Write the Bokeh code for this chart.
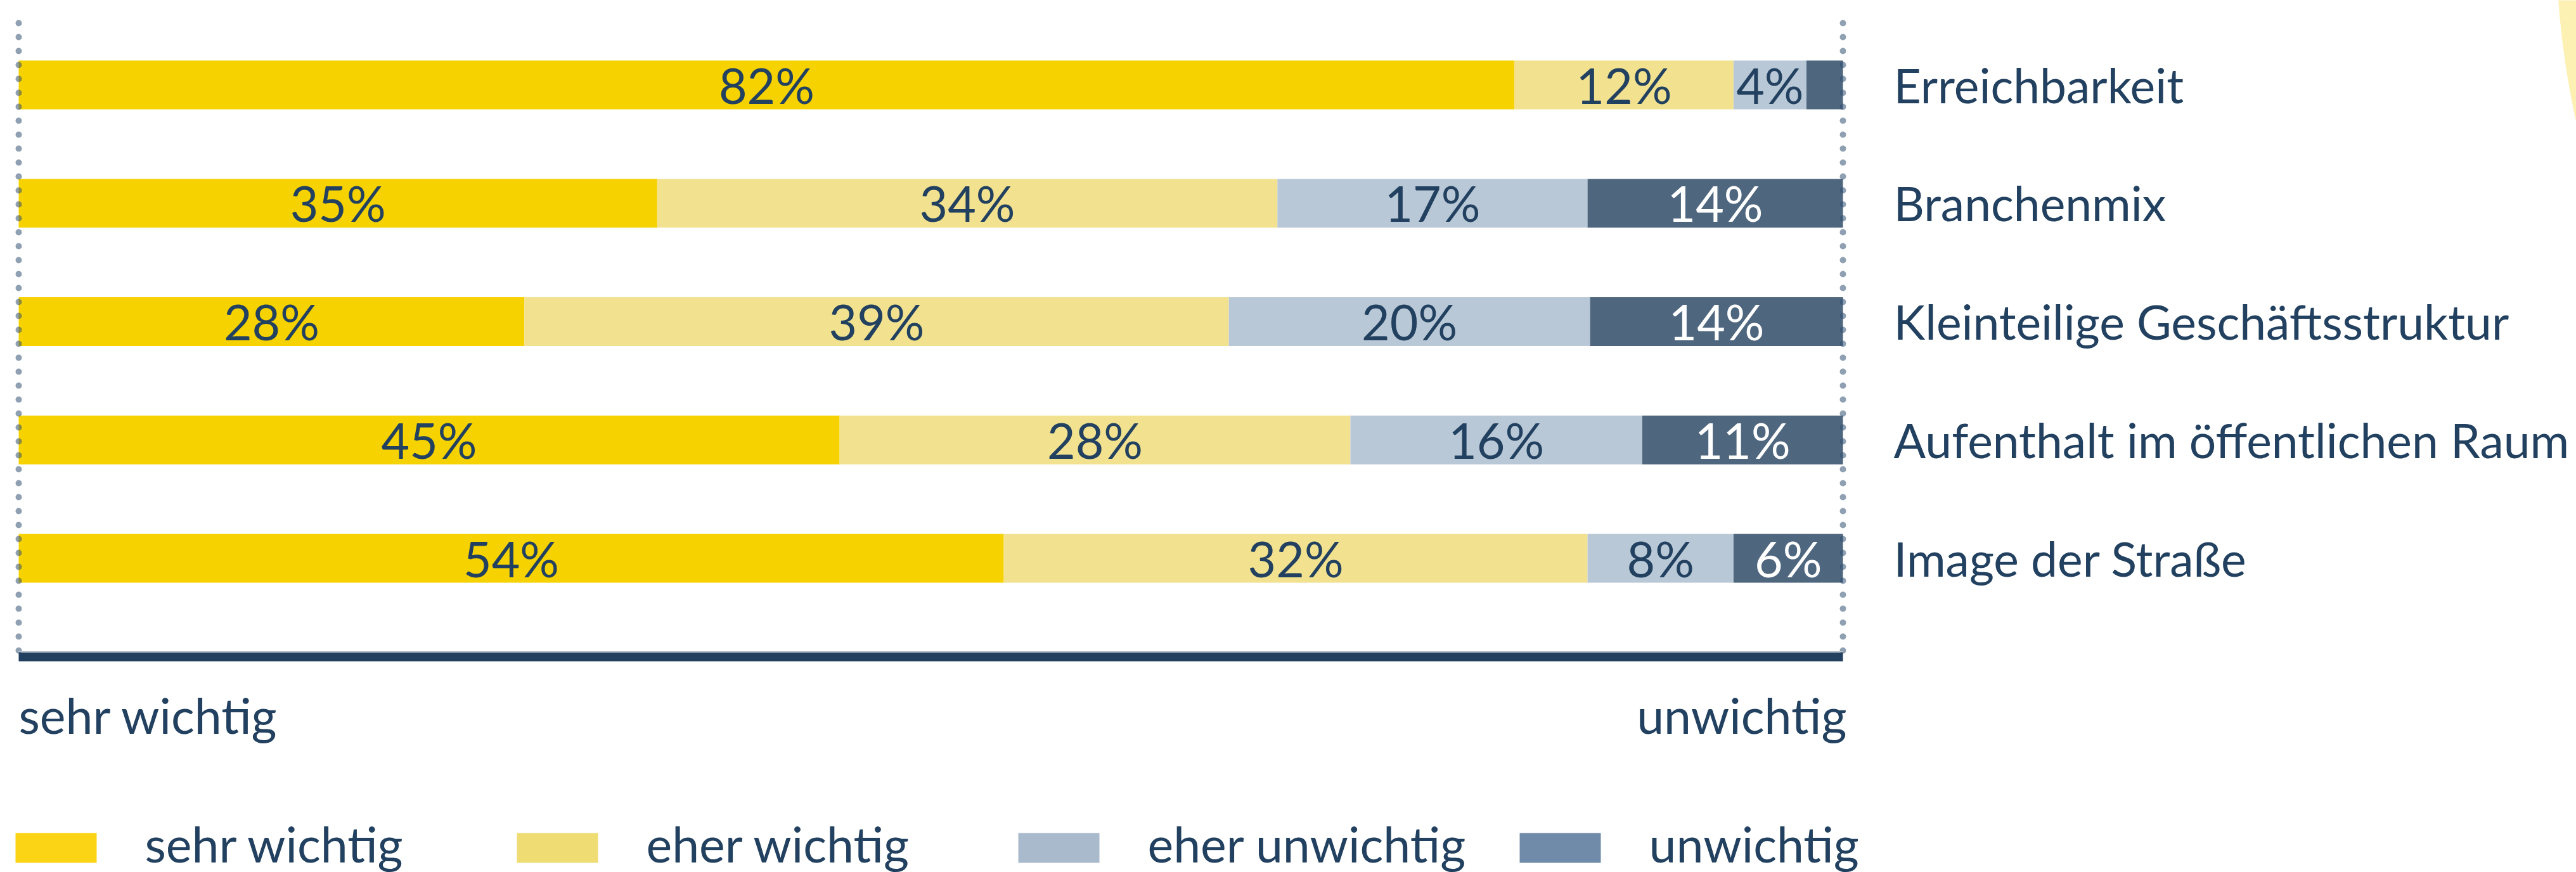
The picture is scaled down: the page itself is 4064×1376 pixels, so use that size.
import numpy as np
from bokeh.plotting import figure
from bokeh.models import ColumnDataSource, Range1d
from bokeh.core.properties import value
from bokeh.embed import file_html
from bokeh.resources import INLINE

# ---------------- data ----------------
categories = ["Erreichbarkeit", "Branchenmix", "Kleinteilige Geschäftsstruktur",
              "Aufenthalt im öffentlichen Raum", "Image der Straße"]
series_names = ["sehr wichtig", "eher wichtig", "eher unwichtig", "unwichtig"]
sehr_wichtig = [82, 35, 28, 45, 54]
eher_wichtig = [12, 34, 39, 28, 32]
eher_unwichtig = [4, 17, 20, 16, 8]
unwichtig = [2, 14, 14, 11, 6]

# ---------------- styles ----------------
bar_colors = ["#F5D200", "#F2E290", "#B9C8D6", "#4F667F"]
legend_colors = ["#FCD416", "#EFDC73", "#A9BACD", "#6F8BA9"]
label_colors = ["#22405F", "#22405F", "#22405F", "#FFFFFF"]
NAVY = "#22405F"
FONT = value("Lato")
FS = "77px"
FS_CAT = "75px"

W, H = 4064, 1376
# pixel <-> data mapping of the full-canvas frame
X_PX0, X_PPU = 29.0, 28.78
Y_PX0, Y_PPU = 133.5, 186.75
BASE_SHIFT = 28.5  # renderer places the alphabetic baseline this far below the anchor


def dx(px):
    return (np.asarray(px, dtype=float) - X_PX0) / X_PPU


def dy(py):
    return (np.asarray(py, dtype=float) - Y_PX0) / Y_PPU


def baseline_y(py):
    return float(dy(py - BASE_SHIFT))


BAR_H = 77 / Y_PPU
TXT_DY = (28 - BASE_SHIFT) / Y_PPU

p = figure(width=W, height=H,
           x_range=Range1d(float(dx(0)), float(dx(W))),
           y_range=Range1d(float(dy(H)), float(dy(0))),
           output_backend="svg", toolbar_location=None,
           x_axis_location=None, y_axis_location=None,
           min_border=0, min_border_left=0, min_border_right=0,
           min_border_top=0, min_border_bottom=0)
p.grid.visible = False
p.outline_line_color = None
p.background_fill_color = "white"
p.border_fill_color = "white"

# pale yellow decorative circle (top right corner)
cx, cy, r = 5392.0, -100.0, 1360.0
ys = np.linspace(-20, 240, 80)
xs = cx - np.sqrt(r ** 2 - (ys - cy) ** 2)
poly_x = list(xs) + [W + 60, W + 60]
poly_y = list(ys) + [240, -20]
p.patch(list(dx(poly_x)), list(dy(poly_y)), fill_color="#FCF1B3", line_color=None)

# ---------------- stacked bars ----------------
n = len(categories)
ypos = list(range(n))
series = [sehr_wichtig, eher_wichtig, eher_unwichtig, unwichtig]
totals = [sum(col) for col in zip(*series)]
left = [0.0] * n
for k, vals in enumerate(series):
    frac = [v / t * 100.0 for v, t in zip(vals, totals)]
    right = [l + f for l, f in zip(left, frac)]
    src = ColumnDataSource(dict(
        y=ypos, left=left, right=right,
        mid=[(l + rr) / 2 for l, rr in zip(left, right)],
        ty=[y + TXT_DY for y in ypos],
        label=[f"{v}%" if v >= 3 else "" for v in vals],
    ))
    p.hbar(y="y", left="left", right="right", height=BAR_H,
           fill_color=bar_colors[k], line_color=None, source=src)
    p.text(x="mid", y="ty", text="label", source=src,
           text_font=FONT, text_font_size=FS, text_color=label_colors[k],
           text_align="center", text_baseline="alphabetic")
    left = right

x_lo, x_hi = 0.0, max(left)

# category labels to the right of the bars
p.text(x=left, y=[y + TXT_DY for y in ypos], text=categories,
       x_offset=80, text_font=FONT, text_font_size=FS_CAT, text_color=NAVY,
       text_align="left", text_baseline="alphabetic")

# dotted boundary lines
p.segment(x0=[x_lo, x_hi], x1=[x_lo, x_hi],
          y0=[float(dy(36))] * 2, y1=[float(dy(1037))] * 2,
          line_color="#304F73", line_alpha=0.54, line_width=10,
          line_dash="0 22", line_cap="round")

# bottom axis line
p.segment(x0=[x_lo], x1=[x_hi], y0=[float(dy(1027.5))], y1=[float(dy(1027.5))],
          line_color="#B7C1CC", line_width=2)
p.segment(x0=[x_lo], x1=[x_hi], y0=[float(dy(1036))], y1=[float(dy(1036))],
          line_color=NAVY, line_width=14)

# axis end labels
p.text(x=[x_lo], y=[baseline_y(1156)], text=[series_names[0]],
       text_font=FONT, text_font_size=FS, text_color=NAVY,
       text_align="left", text_baseline="alphabetic")
p.text(x=[x_hi], y=[baseline_y(1156)], text=[series_names[-1]],
       x_offset=6, text_font=FONT, text_font_size=FS, text_color=NAVY,
       text_align="right", text_baseline="alphabetic")

# legend (fixed pitch)
PITCH, SQ_L, SQ_W, SQ_TOP, SQ_H, TXT_L = 791, 24, 128, 1314, 47, 228
idx = np.arange(len(series_names))
p.rect(x=list(dx(SQ_L + SQ_W / 2 + idx * PITCH)),
       y=[float(dy(SQ_TOP + SQ_H / 2))] * len(idx),
       width=SQ_W / X_PPU, height=SQ_H / Y_PPU,
       fill_color=legend_colors, line_color=None)
p.text(x=list(dx(TXT_L + idx * PITCH)), y=[baseline_y(1359)] * len(idx),
       text=series_names, text_font=FONT, text_font_size=FS, text_color=NAVY,
       text_align="left", text_baseline="alphabetic")

open("out.html", "w").write(file_html(p, INLINE))
